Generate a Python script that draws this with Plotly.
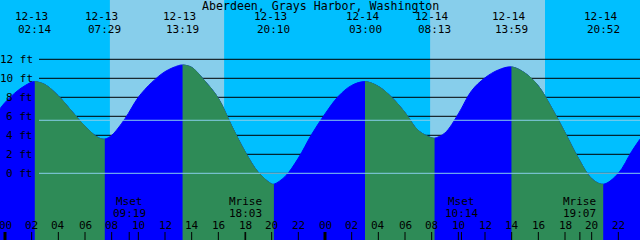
import plotly.graph_objects as go

# ---------------- data ----------------
title = "Aberdeen, Grays Harbor, Washington"

# tide height readings: hours since 12-13 00:00 and height in feet
tide_hours = [-0.375, 0, 1, 2, 2.233, 3, 4, 5, 6, 7, 7.483, 8, 9, 10, 11, 12,
              13, 13.317, 14, 15, 16, 17, 18, 19, 20, 20.167, 21, 22, 23, 24,
              25, 26, 27, 28, 29, 30, 31, 32, 32.217, 33, 34, 35, 36, 37,
              37.983, 39, 40, 41, 42, 43, 44, 44.867, 46, 47, 47.625]
tide_ft = [6.8, 7.45, 8.75, 9.6, 9.65, 9.34, 8.15, 6.55, 4.95, 3.75, 3.6, 4.0,
           5.75, 8.0, 9.55, 10.7, 11.33, 11.4, 11.15, 9.7, 7.9, 5.0, 2.3, 0.1,
           -1.12, -1.15, -0.35, 1.6, 4.1, 6.25, 8.1, 9.25, 9.65, 9.15, 8.0,
           6.4, 4.5, 3.73, 3.7, 4.25, 6.25, 8.7, 10.05, 10.88, 11.2, 10.55,
           9.2, 6.9, 4.3, 1.6, -0.55, -1.15, 0.0, 2.3, 3.6]

extreme_labels = ["12-13 02:14", "12-13 07:29", "12-13 13:19", "12-13 20:10",
                  "12-14 03:00", "12-14 08:13", "12-14 13:59", "12-14 20:52"]
extreme_kind = ["high", "low", "high", "low", "high", "low", "high", "low"]

moon_names = ["Mset", "Mrise", "Mset", "Mrise"]
moon_labels = ["12-13 09:19", "12-13 18:03", "12-14 10:14", "12-14 19:07"]

sunrise_labels = ["12-13 07:52", "12-14 07:53"]
sunset_labels = ["12-13 16:26", "12-14 16:30"]

grid_ft = [0, 2, 4, 6, 8, 10, 12]
mean_level_ft = 5.58
hour_ticks = list(range(0, 49, 2))

# ---------------- styling ----------------
NIGHT = "#00BFFF"
DAY = "#87CEEB"
RISING = "#0000FF"
FALLING = "#2E8B57"
LIGHTLINE = "#87CEEB"
FONT = dict(family="DejaVu Sans Mono", size=11, color="black")

X_RANGE = [-0.375, 47.625]
Y_RANGE = [-7.021, 18.242]
Y_FLOOR = -9
W, H = 640, 240
GRID_START = 2.55
SPAN = X_RANGE[1] - X_RANGE[0]


def to_hours(label):
    day, hm = label.split(" ")
    d = int(day.split("-")[1]) - 13
    hh, mm = hm.split(":")
    return d * 24 + int(hh) + int(mm) / 60.0


def py(px):
    return 1 - px / H


def water(fig, color, xaxis):
    fig.add_trace(go.Scatter(x=[X_RANGE[0], X_RANGE[1]], y=[Y_FLOOR, Y_FLOOR], mode="lines",
                             line=dict(width=0), hoverinfo="skip", showlegend=False,
                             xaxis=xaxis, yaxis="y"))
    fig.add_trace(go.Scatter(x=tide_hours, y=tide_ft, mode="lines", fill="tonexty",
                             fillcolor=color,
                             line=dict(color=color, width=1, shape="spline", smoothing=1),
                             hoverinfo="skip", showlegend=False, xaxis=xaxis, yaxis="y"))


fig = go.Figure()
# rising water over whole width on the main axis
water(fig, RISING, "x")

# falling stretches (high -> next low) drawn on clipped axes with identical scale
ext_t = [to_hours(l) for l in extreme_labels]
extra_axes = {}
k = 2
for i in range(len(ext_t)):
    if extreme_kind[i] != "high":
        continue
    a = ext_t[i]
    b = ext_t[i + 1] if i + 1 < len(ext_t) else X_RANGE[1]
    name = f"xaxis{k}"
    extra_axes[name] = dict(domain=[(a - X_RANGE[0]) / SPAN, (b - X_RANGE[0]) / SPAN],
                            range=[a, b], anchor="y", visible=False, fixedrange=True)
    water(fig, FALLING, f"x{k}")
    k += 1

shapes = []
for sr, ss in zip(sunrise_labels, sunset_labels):
    shapes.append(dict(type="rect", xref="x", yref="paper", x0=to_hours(sr), x1=to_hours(ss),
                       y0=0, y1=1, fillcolor=DAY, line=dict(width=0), layer="below"))
for g in grid_ft:
    shapes.append(dict(type="line", xref="x", yref="y", x0=GRID_START, x1=X_RANGE[1],
                       y0=g, y1=g, line=dict(color="black", width=1), layer="below"))
for g in [0, mean_level_ft]:
    shapes.append(dict(type="line", xref="x", yref="y", x0=GRID_START, x1=X_RANGE[1],
                       y0=g, y1=g, line=dict(color=LIGHTLINE, width=1), layer="above"))
for h in hour_ticks:
    shapes.append(dict(type="line", xref="x", yref="paper", x0=h, x1=h,
                       y0=0, y1=8 / H, line=dict(color="black", width=3 if h % 24 == 0 else 1),
                       layer="above"))
for m in moon_labels:
    t = to_hours(m)
    shapes.append(dict(type="line", xref="x", yref="paper", x0=t, x1=t,
                       y0=0, y1=8 / H, line=dict(color="black", width=1), layer="above"))

ann = []
ann.append(dict(text=title, xref="paper", yref="paper", x=0.5, y=py(5.8),
                showarrow=False, font=dict(FONT, size=11.6), xanchor="center", yanchor="middle",
                borderpad=0))
for lab in extreme_labels:
    t = to_hours(lab)
    d, hm = lab.split(" ")
    ann.append(dict(text=d, xref="x", yref="paper", x=t, y=py(17.0), xshift=-3,
                    showarrow=False, font=FONT, xanchor="center", yanchor="middle", borderpad=0))
    ann.append(dict(text=hm, xref="x", yref="paper", x=t, y=py(29.8),
                    showarrow=False, font=FONT, xanchor="center", yanchor="middle", borderpad=0))
for g in grid_ft:
    ann.append(dict(text=f"{g} ft", xref="paper", yref="y", x=35 / W, y=g,
                    showarrow=False, font=FONT, xanchor="right", yanchor="middle"))
for name, lab in zip(moon_names, moon_labels):
    t = to_hours(lab)
    ann.append(dict(text=name, xref="x", yref="paper", x=t, y=py(201.7),
                    showarrow=False, font=FONT, xanchor="center", yanchor="middle"))
    ann.append(dict(text=lab.split(" ")[1], xref="x", yref="paper", x=t, y=py(213.3),
                    showarrow=False, font=FONT, xanchor="center", yanchor="middle"))
for h in hour_ticks:
    ann.append(dict(text=f"{h % 24:02d}", xref="x", yref="paper", x=h, y=py(225),
                    showarrow=False, font=FONT, xanchor="center", yanchor="middle"))

fig.update_layout(
    width=W, height=H, margin=dict(l=0, r=0, t=0, b=0),
    paper_bgcolor=NIGHT, plot_bgcolor="rgba(0,0,0,0)",
    xaxis=dict(range=X_RANGE, domain=[0, 1], visible=False, fixedrange=True),
    yaxis=dict(range=Y_RANGE, domain=[0, 1], visible=False, fixedrange=True),
    shapes=shapes, annotations=ann, showlegend=False,
    **extra_axes,
)

fig.write_html("out.html")
